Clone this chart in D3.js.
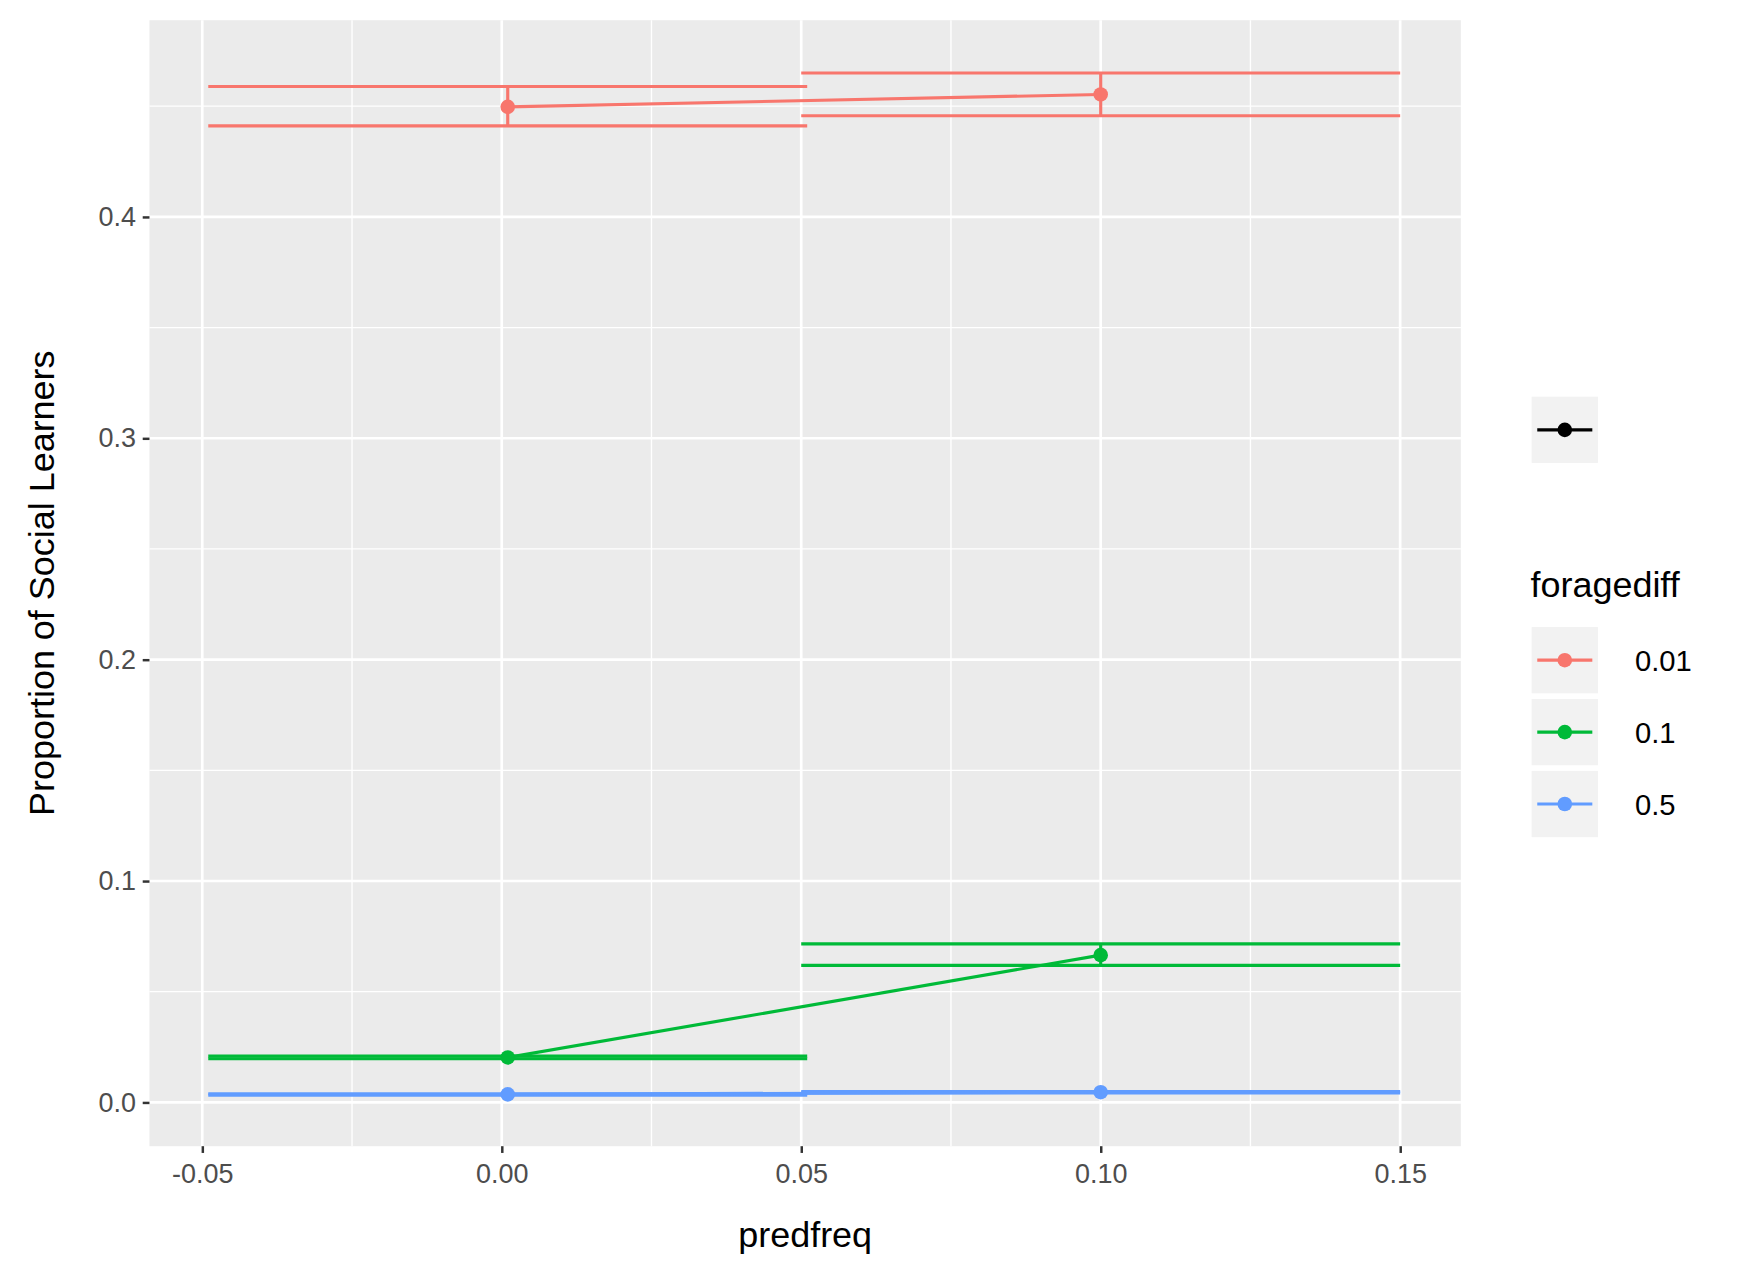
<!DOCTYPE html><html><head><meta charset="utf-8">
<script src="https://cdn.jsdelivr.net/npm/d3@7"></script>
<style>body{margin:0;background:#fff}text{font-family:"Liberation Sans",Arial,sans-serif}</style></head><body>
<svg id="c" width="1762" height="1281"></svg>
<script>
const groups = ["0.01","0.1","0.5"];
const colors = ["#F8766D","#00BA38","#619CFF"];
const xs = [0.001, 0.1];
const means = [[0.4497,0.4553],[0.0203,0.0665],[0.0036,0.0046]];
const lows  = [[0.4411,0.4457],[0.0197,0.0619],[0.0033,0.0043]];
const highs = [[0.4589,0.4650],[0.0209,0.0716],[0.0039,0.0049]];
const xTicks = [-0.05,0,0.05,0.1,0.15];
const xTickLabels = ["-0.05","0.00","0.05","0.10","0.15"];
const yTicks = [0,0.1,0.2,0.3,0.4];
const yTickLabels = ["0.0","0.1","0.2","0.3","0.4"];
const barWidth = 0.1;

const k = 1762/1568;
const g = d3.select("#c").append("g").attr("transform",`scale(${k})`);
const L=133,R=1300,T=18,B=1020;
const x = d3.scaleLinear().domain([-0.05,0.15]).range([180,1246]);
const y = d3.scaleLinear().domain([0,0.4]).range([981,193]);
g.append("rect").attr("x",L).attr("y",T).attr("width",R-L).attr("height",B-T).attr("fill","#EBEBEB");
const xm = [-0.025,0.025,0.075,0.125], ym=[0.05,0.15,0.25,0.35,0.45];
xm.forEach(v=>g.append("line").attr("x1",x(v)).attr("x2",x(v)).attr("y1",T).attr("y2",B).attr("stroke","#fff").attr("stroke-width",1.2));
ym.forEach(v=>g.append("line").attr("y1",y(v)).attr("y2",y(v)).attr("x1",L).attr("x2",R).attr("stroke","#fff").attr("stroke-width",1.2));
xTicks.forEach(v=>g.append("line").attr("x1",x(v)).attr("x2",x(v)).attr("y1",T).attr("y2",B).attr("stroke","#fff").attr("stroke-width",2.4));
yTicks.forEach(v=>g.append("line").attr("y1",y(v)).attr("y2",y(v)).attr("x1",L).attr("x2",R).attr("stroke","#fff").attr("stroke-width",2.4));
const xa = d3.axisBottom(x).tickValues(xTicks).tickFormat((d,i)=>xTickLabels[i]).tickSize(6).tickPadding(6);
const ga = g.append("g").attr("transform",`translate(0,${B})`).call(xa);
const ya = d3.axisLeft(y).tickValues(yTicks).tickFormat((d,i)=>yTickLabels[i]).tickSize(6).tickPadding(6);
const gy = g.append("g").attr("transform",`translate(${L},0)`).call(ya);
[ga,gy].forEach(a=>{a.select(".domain").remove();a.selectAll("line").attr("stroke","#333").attr("stroke-width",2.2);a.selectAll("text").attr("fill","#4D4D4D").attr("font-size",24);});
ga.selectAll("text").attr("dy","0.85em");
g.append("text").attr("x",(L+R)/2).attr("y",1110).attr("text-anchor","middle").attr("font-size",32).text("predfreq");
g.append("text").attr("transform",`translate(48,${(T+B)/2}) rotate(-90)`).attr("text-anchor","middle").attr("font-size",32).text("Proportion of Social Learners");
groups.forEach((gr,i)=>{
  const c=colors[i];
  xs.forEach((xv,j)=>{
    [lows[i][j],highs[i][j]].forEach(v=>g.append("line").attr("x1",x(xv-barWidth/2)).attr("x2",x(xv+barWidth/2)).attr("y1",y(v)).attr("y2",y(v)).attr("stroke",c).attr("stroke-width",2.8));
    g.append("line").attr("x1",x(xv)).attr("x2",x(xv)).attr("y1",y(lows[i][j])).attr("y2",y(highs[i][j])).attr("stroke",c).attr("stroke-width",2.8);
  });
  g.append("path").attr("d",d3.line()(xs.map((xv,j)=>[x(xv),y(means[i][j])]))).attr("stroke",c).attr("stroke-width",2.8).attr("fill","none");
  xs.forEach((xv,j)=>g.append("circle").attr("cx",x(xv)).attr("cy",y(means[i][j])).attr("r",6.5).attr("fill",c));
});
function key(yy,c){g.append("rect").attr("x",1363).attr("y",yy).attr("width",59).attr("height",59).attr("fill","#F2F2F2");
 g.append("line").attr("x1",1368).attr("x2",1417).attr("y1",yy+29.5).attr("y2",yy+29.5).attr("stroke",c).attr("stroke-width",2.8);
 g.append("circle").attr("cx",1392.5).attr("cy",yy+29.5).attr("r",6.5).attr("fill",c);}
key(353,"#000");
g.append("text").attr("x",1362).attr("y",531).attr("font-size",32).text("foragediff");
groups.forEach((gr,i)=>{const yy=558+i*64;key(yy,colors[i]);
 g.append("text").attr("x",1455).attr("y",yy+39).attr("font-size",26).text(gr);});
</script></body></html>
